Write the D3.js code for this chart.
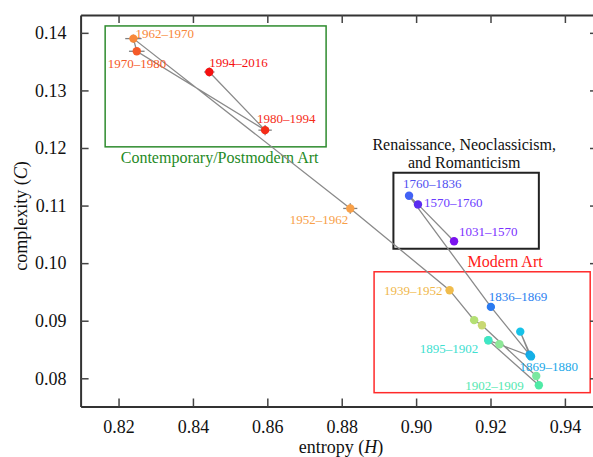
<!DOCTYPE html>
<html><head><meta charset="utf-8">
<script src="https://cdn.jsdelivr.net/npm/d3@7"></script>
<style>
body{margin:0;background:#fff}
svg{display:block}
text{font-family:"Liberation Serif","Times New Roman",serif}
</style>
</head><body>
<svg id="c" width="593" height="457"></svg>
<script>
// ---- data (chronological order) ----
const periods = ["1031–1570","1570–1760","1760–1836","1836–1869","1869–1874","1874–1880","1880–1884",
  "1884–1891","1891–1895","1895–1902","1902–1909","1909–1914","1914–1925","1925–1939","1939–1952",
  "1952–1962","1962–1970","1970–1980","1980–1994","1994–2016"];
const labels = ["1031–1570","1570–1760","1760–1836","1836–1869","1869–1880","","",
  "","","1895–1902","1902–1909","","","","1939–1952",
  "1952–1962","1962–1970","1970–1980","1980–1994","1994–2016"];
const entropy = [0.9102,0.9005,0.8981,0.9201,0.9305,0.9280,0.9309,
  0.9224,0.9194,0.9194,0.9330,0.9323,0.9177,0.9156,0.9090,
  0.8823,0.8240,0.8249,0.8594,0.8444];
const complexity = [0.1038,0.1102,0.1117,0.0924,0.0841,0.0881,0.0838,
  0.0859,0.0866,0.0866,0.0788,0.0804,0.0892,0.0901,0.0953,
  0.1095,0.1390,0.1368,0.1231,0.1332];
const entropyErr = [0.0004,0.0004,0.0004,0.0004,0.0004,0.0004,0.0004,
  0.0004,0.0004,0.0004,0.0004,0.0004,0.0004,0.0004,0.0005,
  0.0019,0.0022,0.0021,0.0018,0.0014];
const complexityErr = [0.0003,0.0003,0.0003,0.0003,0.0003,0.0003,0.0003,
  0.0003,0.0003,0.0003,0.0003,0.0003,0.0003,0.0003,0.0004,
  0.0009,0.0007,0.0006,0.0009,0.0008];
const xTicks = [0.82,0.84,0.86,0.88,0.90,0.92,0.94];
const yTicks = [0.08,0.09,0.10,0.11,0.12,0.13,0.14];

// region boxes in data units [H0, H1, C0, C1]
const regionNames = ["Contemporary/Postmodern Art","Renaissance, Neoclassicism,|and Romanticism","Modern Art"];
const regionH = [[0.8164,0.8758],[0.8939,0.9330],[0.8887,0.9468]];
const regionC = [[0.1202,0.1412],[0.1025,0.1157],[0.0775,0.0985]];

// styles (separate from data)
const pointColors = ["#7a12ee","#5a2cf0","#4262f5","#2a7af0","#16a6e6","#16c2e8","#14b0e6",
  "#8ee898","#8ee898","#3fe6c6","#50eaa6","#7ae8a0","#c8d872","#b4e074","#f0bc4c",
  "#f8a048","#f8883a","#f55a28","#f52c18","#f51010"];
const labelColors = pointColors.slice();
labelColors[0]="#7a30ff"; labelColors[1]="#6a3cff"; labelColors[2]="#5050f0";
labelColors[3]="#2a80f0"; labelColors[4]="#1aa8e8"; labelColors[9]="#40e0d0";
labelColors[10]="#55e8b0"; labelColors[14]="#f0b84c";
const regionColors = ["#2e8b2e","#222","#ff2a2a"];
const regionTextColors = ["#1f8a1f","#111","#ff1a1a"];
// [dx, dy, anchor]
const labelOffsets = {
  "1031–1570":[5,-5,"start"], "1570–1760":[6,3,"start"], "1760–1836":[-6,-8,"start"],
  "1836–1869":[-2,-6,"start"], "1869–1880":[-10,16,"start"], "1895–1902":[-10,13,"end"],
  "1902–1909":[-15,5,"end"], "1939–1952":[-7,5,"end"], "1952–1962":[-2,16,"end"],
  "1962–1970":[2,-1,"start"], "1970–1980":[-29,17,"start"], "1980–1994":[-8,-7,"start"],
  "1994–2016":[0,-5,"start"]
};
// region label placement: [dx from box centre, side, baseline offset]
const regionLabelPos = [[4,"below",16],[-2,"above",-23],[23,"above",-5]];

const svg = d3.select("#c");
const L = 80.6, R = 598, T = 15, B = 406.5;
const x = d3.scaleLinear().domain([0.8098, 0.9489]).range([L, R]);
const y = d3.scaleLinear().domain([0.0751, 0.1431]).range([B, T]);

// region boxes
regionNames.forEach((name,k)=>{
  const x0 = x(regionH[k][0]), x1 = x(regionH[k][1]);
  const yTop = y(regionC[k][1]), yBot = y(regionC[k][0]);
  svg.append("rect").attr("x",x0).attr("y",yTop)
    .attr("width",x1-x0).attr("height",yBot-yTop)
    .attr("fill","none").attr("stroke",regionColors[k]).attr("stroke-width",k===1?2:1.5);
  const p = regionLabelPos[k];
  const cx = (x0+x1)/2 + p[0];
  const by = p[1]==="below" ? yBot + p[2] : yTop + p[2];
  name.split("|").forEach((ln,j)=>{
    svg.append("text").attr("x",cx).attr("y",by + j*18)
      .attr("text-anchor","middle").attr("font-size",16)
      .attr("fill",regionTextColors[k]).text(ln);
  });
});

// axes frame with inward ticks
const ax = svg.append("g");
ax.append("g").attr("transform",`translate(0,${B})`)
  .call(d3.axisBottom(x).tickValues(xTicks).tickSizeInner(-8).tickSizeOuter(0).tickPadding(14).tickFormat(d3.format(".2f")));
ax.append("g").attr("transform",`translate(0,${T})`)
  .call(d3.axisTop(x).tickValues(xTicks).tickSizeInner(-8).tickSizeOuter(0).tickFormat(""));
ax.append("g").attr("transform",`translate(${L},0)`)
  .call(d3.axisLeft(y).tickValues(yTicks).tickSizeInner(-8).tickSizeOuter(0).tickPadding(14).tickFormat(d3.format(".2f")));
ax.append("g").attr("transform",`translate(${R},0)`)
  .call(d3.axisRight(y).tickValues(yTicks).tickSizeInner(-8).tickSizeOuter(0).tickFormat(""));
ax.selectAll("g").attr("font-family","Liberation Serif, serif");
ax.selectAll(".domain").attr("stroke","#333").attr("stroke-width",2);
ax.selectAll(".tick line").attr("stroke","#444").attr("stroke-width",1.5);
ax.selectAll(".tick text").attr("font-family","Liberation Serif, serif").attr("font-size",18).attr("fill","#111");

// axis titles
const xt = svg.append("text").attr("x",341).attr("y",453).attr("text-anchor","middle")
  .attr("font-size",18).attr("fill","#111");
xt.append("tspan").text("entropy (");
xt.append("tspan").attr("font-style","italic").text("H");
xt.append("tspan").text(")");
const yt = svg.append("text").attr("transform","translate(27,216) rotate(-90)").attr("text-anchor","middle")
  .attr("font-size",18).attr("fill","#111");
yt.append("tspan").text("complexity (");
yt.append("tspan").attr("font-style","italic").text("C");
yt.append("tspan").text(")");

// path connecting periods
const idx = d3.range(periods.length);
svg.append("path").datum(idx)
  .attr("d", d3.line().x(i=>x(entropy[i])).y(i=>y(complexity[i])))
  .attr("fill","none").attr("stroke","#8a8a8a").attr("stroke-width",1.3);

// error bars
const eb = svg.append("g").attr("stroke","#808080").attr("stroke-width",1.3);
idx.forEach(i=>{
  eb.append("line").attr("x1",x(entropy[i]-entropyErr[i])).attr("x2",x(entropy[i]+entropyErr[i]))
    .attr("y1",y(complexity[i])).attr("y2",y(complexity[i]));
  eb.append("line").attr("x1",x(entropy[i])).attr("x2",x(entropy[i]))
    .attr("y1",y(complexity[i]-complexityErr[i])).attr("y2",y(complexity[i]+complexityErr[i]));
});

// points
svg.append("g").selectAll("circle").data(idx).join("circle")
  .attr("cx",i=>x(entropy[i])).attr("cy",i=>y(complexity[i])).attr("r",4.2)
  .attr("fill",i=>pointColors[i]);

// labels
svg.append("g").selectAll("text").data(idx.filter(i=>labels[i])).join("text")
  .attr("x",i=>x(entropy[i])+labelOffsets[labels[i]][0])
  .attr("y",i=>y(complexity[i])+labelOffsets[labels[i]][1])
  .attr("text-anchor",i=>labelOffsets[labels[i]][2])
  .attr("font-size",13).attr("fill",i=>labelColors[i]).text(i=>labels[i]);
</script>
</body></html>
